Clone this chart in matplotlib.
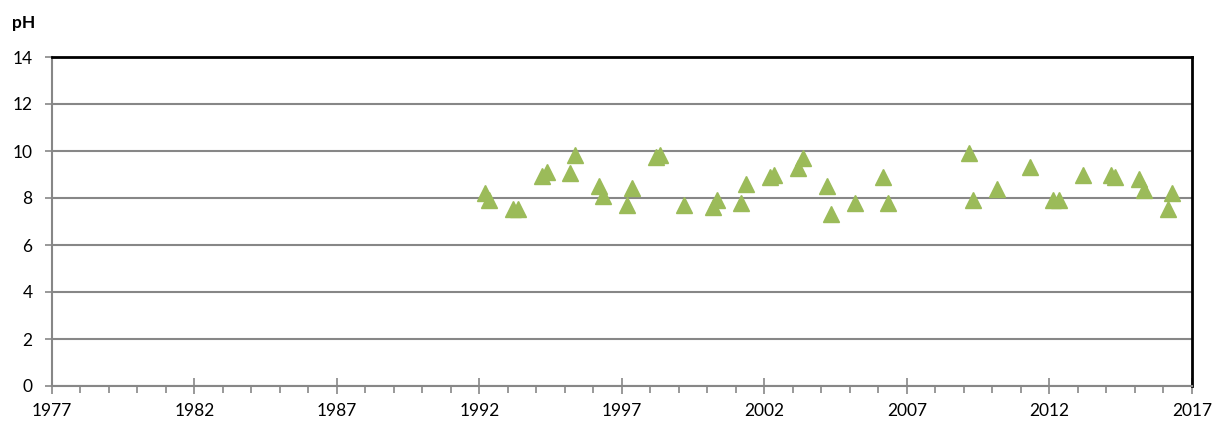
import matplotlib
matplotlib.use("Agg")
import matplotlib.pyplot as plt
from matplotlib.ticker import MultipleLocator

# sample dates (fractional year) and pH values
years = [1992.19, 1992.35, 1993.19, 1993.36, 1994.20, 1994.36, 1995.19, 1995.34,
         1996.20, 1996.34, 1997.19, 1997.34, 1998.19, 1998.33, 1999.18, 2000.18,
         2000.32, 2001.16, 2001.34, 2002.19, 2002.33, 2003.19, 2003.34, 2004.18,
         2004.33, 2005.18, 2006.17, 2006.32, 2009.19, 2009.33, 2010.17, 2011.32,
         2012.13, 2012.32, 2013.19, 2014.15, 2014.30, 2015.15, 2015.32, 2016.17,
         2016.31]
ph = [8.21, 7.93, 7.53, 7.53, 8.92, 9.12, 9.08, 9.82,
      8.52, 8.10, 7.71, 8.41, 9.74, 9.83, 7.71, 7.62,
      7.91, 7.77, 8.61, 8.91, 9.00, 9.29, 9.71, 8.50,
      7.30, 7.79, 8.91, 7.79, 9.92, 7.91, 8.39, 9.31,
      7.91, 7.91, 9.00, 9.00, 8.89, 8.82, 8.33, 7.52,
      8.20]

x_ticks = [1977, 1982, 1987, 1992, 1997, 2002, 2007, 2012, 2017]
y_ticks = [0, 2, 4, 6, 8, 10, 12, 14]

grid_color = "#878787"
marker_color = "#9BBB59"

plt.rcParams['font.family'] = ['Lato', 'DejaVu Sans']

fig = plt.figure(figsize=(12.13, 4.24), dpi=100)
ax = fig.add_axes([52 / 1213, 38 / 424, 1140 / 1213, 329 / 424])

ax.set_xlim(1977, 2017)
ax.set_ylim(0, 14)
ax.set_xticks(x_ticks)
ax.set_xticklabels([str(t) for t in x_ticks])
ax.xaxis.set_minor_locator(MultipleLocator(1))
ax.set_yticks(y_ticks)
ax.set_yticklabels([str(t) for t in y_ticks])

ax.yaxis.grid(True, color=grid_color, linewidth=1.5)
ax.set_axisbelow(True)

ax.plot(years, ph, linestyle="none", marker="^", markersize=11,
        color=marker_color, markeredgecolor=marker_color, zorder=3, clip_on=False)

for side in ("left", "bottom"):
    ax.spines[side].set_color(grid_color)
    ax.spines[side].set_linewidth(1.5)
for side in ("top", "right"):
    ax.spines[side].set_color("black")
    ax.spines[side].set_linewidth(2)

ax.tick_params(axis="y", which="major", direction="out", length=5, width=1.2,
               color=grid_color, labelsize=12.5, pad=9)
ax.tick_params(axis="x", which="major", direction="inout", length=12, width=1.2,
               color=grid_color, labelsize=12.5, pad=6)
ax.tick_params(axis="x", which="minor", direction="out", length=5, width=1.2,
               color=grid_color)

fig.text(12 / 1213, 1 - 23 / 424, "pH", fontsize=12.5, fontweight="bold",
         ha="left", va="center")

fig.savefig("out.png", dpi=100)
